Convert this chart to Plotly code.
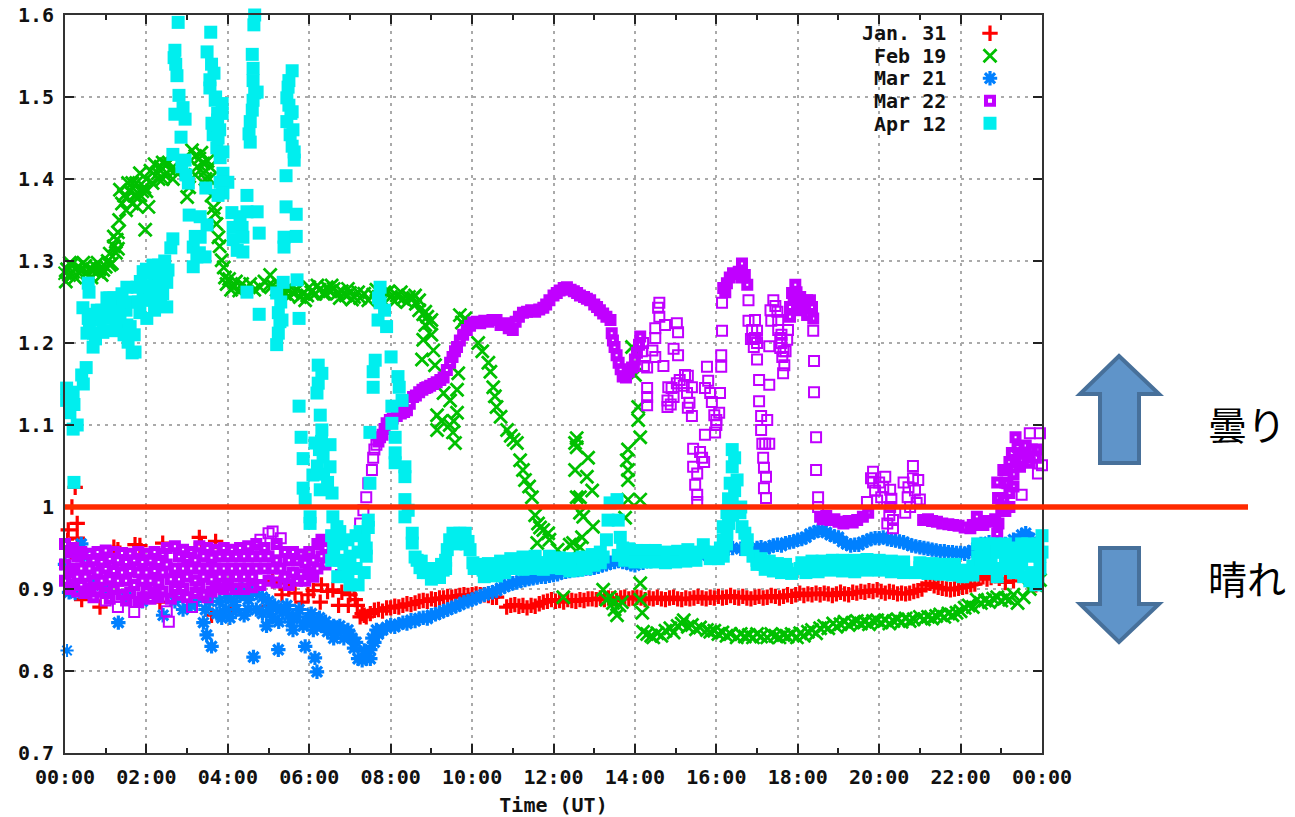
import plotly.graph_objects as go

W, H = 1295, 817
L, R, T, B = 65, 1042, 15, 753

series_names = ["Jan. 31", "Feb 19", "Mar 21", "Mar 22", "Apr 12"]
hour_ticks = [0, 2, 4, 6, 8, 10, 12, 14, 16, 18, 20, 22, 24]
hour_labels = ["00:00", "02:00", "04:00", "06:00", "08:00", "10:00", "12:00", "14:00", "16:00", "18:00", "20:00", "22:00", "00:00"]
minor_hours = [1, 3, 5, 7, 9, 11, 13, 15, 17, 19, 21, 23]
ratio_ticks = [0.7, 0.8, 0.9, 1.0, 1.1, 1.2, 1.3, 1.4, 1.5, 1.6]
ratio_labels = ["0.7", "0.8", "0.9", "1", "1.1", "1.2", "1.3", "1.4", "1.5", "1.6"]

jan31 = [(.05,.96),(.08,.972),(.17,1.0),(.25,1.024),(.3,.98),(.3,.962),(.15,.945),(.41,.887),(.86,.878),(1.2,.951),(1.3,.948),(1.72,.954),(1.84,.953),(2.33,.884),(2.4,.956),(3.3,.963),(3.35,.955),(3.6,.868),(3.7,.958),(4.06,.872),(4.96,.879),(5.33,.893),(5.28,.907),(5.1,.91),(5.5,.9),(5.65,.895),(5.82,.884),(5.97,.893),(6.1,.898),(6.27,.884),(6.3,.905),(6.45,.897),(6.58,.899),(6.72,.88),(6.8,.896),(6.96,.88),(7.0,.893),(7.1,.9),(7.13,.887),(7.18,.88),(7.25,.866),
(7.3,.87),(7.35,.868),(7.4,.866),(7.5,.87),(7.6,.874),(7.7,.875),(7.8,.873),(7.9,.877),(8.0,.877),(8.1,.879),(8.2,.878),(8.3,.88),(8.4,.882),(8.5,.881),(8.6,.883),(8.7,.885),(8.8,.886),(8.9,.885),(9.0,.888),(9.1,.887),(9.2,.889),(9.3,.889),(9.4,.891),(9.5,.89),(9.6,.891),(9.7,.892),(9.8,.893),(9.9,.892),(10.0,.893),(10.1,.894),(10.2,.893),(10.3,.893),(10.4,.892),(10.5,.89),(10.6,.89),(10.85,.878),(10.95,.88),(11.05,.881),(11.15,.879),(11.25,.88),(11.35,.877),(11.45,.88),(11.55,.879),(11.65,.882),(11.75,.884),(11.85,.885),(11.95,.887),(12.05,.885),(12.15,.886),(12.25,.884),(12.35,.887),(12.45,.886),(12.55,.885),(12.65,.887),(12.75,.886),(12.85,.888),(12.95,.888),(13.05,.887),(13.15,.889),(13.25,.887),(13.35,.889),(13.45,.888),(13.55,.886),(13.65,.889),(13.75,.89),(13.85,.888),(13.95,.889),(14.05,.89),(14.15,.889),(14.25,.887),(14.35,.889),(14.45,.888),(14.55,.89),(14.65,.888),(14.75,.887),(14.85,.889),(14.95,.89),(15.05,.888),(15.15,.887),(15.25,.889),(15.35,.888),(15.45,.889),(15.55,.891),(15.65,.889),(15.75,.888),(15.85,.89),(15.95,.889),(16.05,.891),(16.15,.889),(16.25,.89),(16.35,.892),(16.45,.89),(16.55,.889),(16.65,.891),(16.75,.889),(16.85,.888),(16.95,.89),(17.05,.891),(17.15,.889),(17.25,.89),(17.35,.892),(17.45,.891),(17.55,.889),(17.65,.891),(17.75,.893),(17.85,.891),(17.95,.893),(18.05,.895),(18.15,.892),(18.25,.894),(18.35,.893),(18.45,.895),(18.55,.893),(18.65,.895),(18.75,.894),(18.85,.892),(18.95,.894),(19.05,.896),(19.15,.894),(19.25,.893),(19.35,.896),(19.45,.895),(19.55,.897),(19.65,.896),(19.75,.898),(19.85,.897),(19.95,.899),(20.05,.897),(20.15,.895),(20.25,.897),(20.35,.896),(20.45,.894),(20.55,.895),(20.65,.894),(20.75,.895),(20.85,.897),(20.95,.898),(21.05,.9),(21.15,.905),(21.25,.907),(21.35,.904),(21.45,.902),(21.55,.901),(21.65,.9),(21.75,.899),(21.85,.9),(21.95,.901),(22.05,.902),(22.15,.903),(22.25,.905),(22.35,.906),(22.45,.913),(22.55,.915),(22.65,.912),(22.75,.914),(22.85,.916),(22.95,.913),(23.1,.908),(23.3,.91),(23.6,.912),(23.85,.905)]

feb19 = [(0.0,1.285),(.05,1.29),(.1,1.283),(.15,1.295),(.2,1.287),(.3,1.292),(.35,1.285),(.4,1.29),(.5,1.294),(.55,1.286),(.6,1.291),(.7,1.288),(.75,1.293),(.8,1.287),(.85,1.29),(.94,1.289),(1.0,1.293),(1.05,1.3),(1.1,1.309),(1.15,1.297),(1.2,1.318),(1.25,1.31),(1.27,1.326),(1.33,1.35),(1.3,1.335),(1.35,1.387),(1.4,1.37),(1.45,1.38),(1.52,1.378),(1.5,1.362),(1.6,1.385),(1.65,1.37),(1.7,1.38),(1.77,1.366),(1.75,1.38),(1.84,1.407),(1.9,1.385),(1.97,1.338),(1.95,1.39),(2.05,1.366),(2.0,1.4),(2.1,1.41),(2.15,1.395),(2.2,1.418),(2.28,1.407),(2.35,1.415),(2.4,1.42),(2.45,1.405),(2.5,1.418),(2.58,1.411),(2.65,1.4),(2.7,1.41),(3.0,1.378),(3.05,1.39),(3.12,1.435),(3.2,1.428),(3.25,1.415),(3.3,1.425),(3.4,1.419),(3.45,1.41),(3.5,1.422),(3.56,1.415),(3.6,1.38),(3.65,1.365),(3.69,1.358),(3.72,1.345),(3.77,1.329),(3.8,1.318),(3.85,1.301),(3.9,1.292),(3.93,1.28),(3.97,1.272),(4.03,1.278),(4.08,1.265),(4.13,1.268),(4.2,1.275),(4.28,1.264),(4.35,1.272),(4.45,1.267),(4.55,1.272),(4.65,1.265),(4.79,1.268),(4.9,1.275),(5.04,1.283),(5.1,1.27),(5.2,1.265),(5.3,1.262),(5.4,1.26),(5.5,1.257),(5.6,1.261),(5.77,1.256),(5.85,1.26),(5.95,1.258),(6.05,1.262),(6.15,1.26),(6.25,1.265),(6.35,1.26),(6.43,1.268),(6.5,1.263),(6.6,1.266),(6.7,1.261),(6.8,1.263),(6.9,1.258),(7.0,1.261),(7.1,1.256),(7.25,1.255),(7.35,1.26),(7.57,1.259),(7.7,1.256),(7.85,1.262),(8.0,1.256),(8.15,1.258),(8.3,1.254),(8.45,1.256),(8.55,1.255),(8.62,1.248),(8.7,1.24),(8.8,1.235),(8.9,1.232),(8.95,1.225),(8.8,1.204),(9.05,1.191),(8.77,1.18),(9.09,1.173),(9.0,1.21),(9.7,1.234),(9.83,1.23),(9.75,1.225),(9.66,1.163),(9.3,1.139),(9.63,1.143),(9.46,1.13),(9.14,1.112),(9.63,1.115),(9.14,1.094),(9.53,1.091),(9.58,1.078),(9.25,1.105),(9.45,1.1),(9.55,1.105),
(10.15,1.2),(10.25,1.19),(10.4,1.176),(10.45,1.165),(10.52,1.146),(10.56,1.135),(10.6,1.122),(10.7,1.11),(10.86,1.094),(10.95,1.087),(11.02,1.082),(11.1,1.078),(11.18,1.057),(11.25,1.045),(11.3,1.033),(11.4,1.025),(11.47,1.012),(11.55,.99),(11.62,.98),(11.67,.975),(11.75,.972),(11.87,.968),(11.9,.96),(11.6,.956),(12.1,.948),(12.4,.954),(12.53,1.078),(12.53,1.045),(12.57,1.012),(12.57,1.084),(12.57,1.073),(12.85,1.06),(12.82,1.037),(12.95,1.02),(12.65,1.012),(12.65,.993),(12.97,.976),(12.7,.963),(12.73,.988),(12.48,.956),(12.65,.951),(11.6,.92),(12.08,.923),(12.24,.89),(13.22,.899),(13.3,.887),(13.38,.89),(13.46,.883),(13.5,.875),(13.56,.868),(13.62,.88),(13.68,.884),(13.83,1.07),(13.8,1.057),(14.13,1.085),(13.83,1.045),(13.83,1.033),(14.08,1.106),(14.08,1.122),(14.0,1.161),(13.93,1.195),(14.13,1.009),(13.83,1.009),(13.76,.987),(14.13,.907),(14.13,.887),(14.18,.871),
(14.2,.848),(14.3,.845),(14.4,.843),(14.45,.841),(14.55,.846),(14.65,.843),(14.75,.849),(14.87,.852),(14.95,.847),(15.05,.855),(15.15,.858),(15.2,.862),(15.3,.854),(15.4,.856),(15.5,.851),(15.6,.853),(15.77,.85),(15.85,.848),(15.95,.849),(16.05,.845),(16.15,.847),(16.25,.843),(16.35,.845),(16.5,.841),(16.6,.845),(16.7,.842),(16.8,.844),(16.9,.841),(17.0,.845),(17.1,.842),(17.25,.841),(17.35,.845),(17.45,.843),(17.55,.841),(17.65,.844),(17.75,.842),(17.85,.845),(17.98,.841),(18.06,.846),(18.15,.843),(18.25,.848),(18.35,.85),(18.45,.846),(18.55,.852),(18.65,.855),(18.75,.852),(18.87,.858),(18.95,.854),(19.05,.857),(19.15,.86),(19.25,.856),(19.35,.859),(19.45,.861),(19.55,.858),(19.65,.86),(19.75,.857),(19.85,.861),(19.95,.862),(20.05,.859),(20.15,.862),(20.25,.858),(20.35,.861),(20.45,.863),(20.55,.86),(20.65,.864),(20.75,.861),(20.85,.863),(21.0,.866),(21.1,.863),(21.2,.866),(21.3,.864),(21.4,.867),(21.5,.869),(21.6,.866),(21.7,.87),(21.8,.868),(21.9,.871),(22.0,.873),(22.1,.877),(22.2,.88),(22.3,.878),(22.4,.887),(22.5,.883),(22.6,.886),(22.7,.884),(22.8,.888),(22.9,.89),(23.0,.886),(23.1,.889),(23.2,.887),(23.3,.893),(23.4,.883),(23.55,.89),(23.7,.9),(23.85,.905),(23.95,.911),
(5.0,1.27),(5.25,1.272),(5.45,1.265),(5.55,1.268),(5.7,1.265),(5.9,1.252),(6.0,1.268),(6.2,1.27),(6.4,1.26),(6.55,1.27),(6.75,1.255),(6.95,1.266),(7.05,1.253),(7.2,1.262),(7.45,1.252),(7.65,1.265),(7.8,1.252),(7.95,1.263),(8.1,1.251),(8.25,1.262),(8.4,1.25),(8.6,1.258),(8.7,1.252),(8.85,1.238),(9.0,1.228),(8.85,1.222),(.02,1.275),(.12,1.298),(.25,1.28),(.45,1.298),(.65,1.28),(.8,1.298),(.9,1.283),(1.1,1.295),(1.2,1.33),(1.3,1.315),(1.55,1.395),(1.65,1.395),(1.75,1.395),(1.85,1.38),(2.0,1.385),(2.3,1.4),(2.55,1.42),(2.4,1.4),(3.35,1.432),(3.45,1.4),(3.55,1.4),(3.2,1.405)]

mar21 = [(.05,.825),(.1,.896),(.25,.895),(.0,.93),(.4,.955),(.45,.94),(.7,.905),(1.0,.9),(1.31,.859),(1.5,.89),(1.9,.885),(2.41,.868),(2.7,.885),(3.1,.88),(3.4,.859),(3.48,.844),(3.6,.83),(3.73,.87),(3.85,.865),(3.95,.875),(4.05,.865),(4.15,.885),(4.3,.892),(4.4,.868),(4.5,.887),(4.63,.817),(4.6,.896),(4.7,.875),(4.85,.89),(4.95,.855),(5.0,.874),(5.1,.866),(5.24,.826),(5.25,.86),(5.35,.872),(5.5,.868),(5.6,.85),(5.7,.866),(5.9,.83),(5.95,.86),(6.0,.862),(6.1,.85),(6.14,.816),(6.19,.799),(6.3,.855),(6.45,.848),(6.5,.852),(6.6,.84),(6.7,.847),(6.85,.84),(7.0,.844),(7.1,.828),(7.2,.815),(7.3,.813),(7.4,.815),(7.5,.826),(7.6,.835),(7.7,.845),(7.8,.85),(7.9,.853),(8.0,.856),(8.1,.854),(8.2,.857),(8.3,.859),(8.4,.858),(8.5,.862),(8.6,.861),(8.7,.864),(8.8,.865),(8.9,.864),(9.0,.868),(9.1,.869),(9.2,.871),(9.3,.873),(9.4,.875),(9.5,.877),(9.6,.879),(9.7,.881),(9.8,.884),(9.9,.885),(10.0,.887),(10.1,.889),(10.2,.891),(10.3,.893),(10.4,.895),(10.5,.896),(10.6,.898),(10.7,.901),(10.8,.903),(10.9,.905),(11.0,.907),(11.1,.908),(11.2,.91),(11.3,.911),(11.4,.912),(11.5,.913),(11.6,.914),(11.7,.915),(11.8,.915),(11.9,.916),(12.0,.917),(12.1,.918),(12.2,.92),(12.3,.921),(12.4,.922),(12.5,.923),(12.6,.923),(12.7,.924),(12.8,.925),(12.9,.925),(13.0,.926),(13.1,.927),(13.2,.929),(13.3,.93),(13.4,.932),(13.5,.933),(13.6,.934),(13.7,.933),(13.8,.932),(13.9,.93),(14.0,.929),(14.2,.932),(14.4,.934),(14.6,.935),(14.8,.937),(15.0,.938),(15.2,.939),(15.4,.94),(15.6,.941),(15.8,.943),(16.0,.944),(16.2,.947),(16.4,.95),(16.6,.949),(16.8,.95),(16.9,.947),(17.0,.95),(17.1,.951),(17.2,.949),(17.3,.951),(17.4,.953),(17.5,.954),(17.6,.953),(17.7,.956),(17.8,.957),(17.9,.958),(18.0,.96),(18.1,.961),(18.2,.963),(18.3,.967),(18.4,.969),(18.5,.971),(18.6,.972),(18.7,.969),(18.8,.966),(18.9,.964),(19.0,.963),(19.1,.958),(19.2,.955),(19.3,.953),(19.4,.954),(19.5,.954),(19.6,.957),(19.7,.959),(19.8,.961),(19.9,.962),(20.0,.962),(20.1,.963),(20.2,.961),(20.3,.96),(20.4,.959),(20.5,.958),(20.6,.957),(20.7,.955),(20.8,.953),(20.9,.952),(21.0,.951),(21.1,.95),(21.2,.949),(21.3,.948),(21.4,.947),(21.5,.946),(21.6,.946),(21.7,.945),(21.8,.945),(21.9,.944),(22.0,.944),(22.1,.943),(22.2,.945),(22.3,.947),(22.4,.951),(22.5,.955),(22.7,.957),(22.9,.956),(23.1,.955),(23.3,.96),(23.5,.966),(23.6,.968),(23.7,.962),(23.9,.948),
(3.8,.885),(4.0,.89),(4.2,.875),(4.35,.9),(4.5,.875),(4.7,.895),(4.85,.87),(5.0,.885),(5.15,.88),(5.3,.875),(5.45,.88),(5.55,.86),(5.75,.875),(5.85,.855),(6.05,.87),(6.15,.855),(6.25,.865),(6.4,.86),(6.6,.855),(6.75,.855),(6.95,.85),(7.05,.84),(7.15,.835),(7.35,.825),(7.5,.815),(7.55,.84),(7.65,.85),(2.9,.875),(3.2,.885),(3.45,.875),(3.55,.885)]

mar22_sparse = [(2.55,.86),(1.7,.872),(3.12,.878),(6.78,.917),(2.5,.873),(1.0,.886),(1.3,.878),(3.5,.89),(5.0,.968),(5.1,.97),(4.8,.96),(5.3,.962),
(7.25,.98),(7.33,.996),(7.4,1.012),(7.45,1.029),(7.54,1.045),(7.57,1.06),(7.6,1.07),(7.65,1.076),
(14.2,1.2),(14.17,1.19),(14.22,1.172),(14.3,1.17),(14.3,1.145),(14.3,1.134),(14.3,1.124),(14.5,1.183),(14.43,1.191),(14.5,1.218),(14.5,1.206),(14.57,1.243),(14.6,1.232),(14.6,1.249),(14.74,1.222),(15.03,1.224),(15.06,1.213),(14.95,1.193),(15.06,1.185),(14.7,1.172),(14.82,1.146),(14.8,1.13),(14.8,1.122),(14.95,1.134),(15.23,1.161),(15.03,1.151),(15.4,1.146),(15.28,1.139),(15.34,1.127),(15.3,1.121),(15.4,1.111),(14.9,1.145),(14.88,1.125),(15.1,1.155),(15.3,1.16),(15.2,1.148),
(15.77,1.171),(15.8,1.154),(15.72,1.145),(15.85,1.139),(15.89,1.128),(16.09,1.139),(16.07,1.115),(16.0,1.106),(15.97,1.091),(15.72,1.088),(16.12,1.185),(16.12,1.171),(15.95,1.112),(16.0,1.1),(15.43,1.071),(15.65,1.06),(15.6,1.067),(15.7,1.055),(15.43,1.049),(15.53,1.041),(15.48,1.027),(15.53,1.015),(15.53,1.006),
(16.14,1.215),(16.14,1.249),(16.79,1.252),(16.79,1.227),(16.95,1.228),(16.88,1.216),(16.95,1.206),(17.0,1.2),(17.3,1.196),(17.0,1.18),(17.05,1.155),(17.3,1.149),(17.05,1.129),(17.1,1.111),(17.25,1.106),(17.1,1.094),(17.13,1.077),(17.2,1.077),(17.3,1.077),(17.15,1.06),(17.17,1.048),(17.22,1.037),(17.17,1.023),(17.22,1.011),(16.9,1.205),(16.92,1.195),(17.0,1.215),(16.85,1.205),
(17.4,1.252),(17.33,1.24),(17.5,1.238),(17.35,1.227),(17.52,1.228),(17.52,1.216),(17.76,1.216),(17.57,1.206),(17.74,1.204),(17.57,1.194),(17.62,1.183),(17.67,1.173),(17.64,1.163),(17.45,1.245),(17.6,1.21),(17.7,1.19),(17.65,1.19),(17.6,1.2),
(18.38,1.215),(18.4,1.178),(18.4,1.14),(18.45,1.085),(18.45,1.045),(18.5,1.012),(18.5,1.0),
(19.85,1.043),(19.85,1.03),(19.9,1.02),(19.95,1.008),(19.8,1.035),(20.0,1.03),(20.15,1.037),(20.1,1.024),(20.27,1.021),(20.05,1.012),(19.7,1.006),(20.27,1.0),(20.34,.984),(20.34,.974),(20.25,.99),(20.2,.98),(20.3,1.01),(20.6,1.03),(20.83,1.05),(20.83,1.035),(20.7,1.012),(20.96,1.033),(21.0,1.009),(20.76,1.0),(20.64,.993),(20.72,1.024),(20.88,1.02),(20.92,1.005),
(23.5,1.015),(23.7,1.09),(23.95,1.09),(24.0,1.051),(23.9,1.041)]

mar22_dense = [(0,.955),(0,.93),(0,.91),(.1,.945),(.1,.92),(.1,.9),(.2,.95),(.2,.925),(.2,.905),(.3,.94),(.3,.915),(.3,.897),(.4,.945),(.4,.925),(.4,.905),(.5,.935),(.5,.915),(.5,.895),(.6,.943),(.6,.925),(.6,.9),(.7,.935),(.7,.91),(.7,.89),(.8,.945),(.8,.92),(.8,.897),(.9,.933),(.9,.91),(1.0,.947),(1.0,.925),(1.0,.895),(1.1,.937),(1.1,.912),(1.1,.888),(1.2,.945),(1.2,.922),(1.2,.9),(1.3,.935),(1.3,.91),(1.4,.944),(1.4,.92),(1.4,.893),(1.5,.933),(1.5,.91),(1.5,.886),(1.6,.943),(1.6,.922),(1.6,.895),(1.7,.935),(1.7,.905),(1.8,.945),(1.8,.92),(1.8,.884),(1.9,.933),(1.9,.91),(1.9,.89),(2.0,.943),(2.0,.92),(2.0,.897),(2.1,.935),(2.1,.91),(2.1,.888),(2.2,.945),(2.2,.922),(2.2,.895),(2.3,.933),(2.3,.908),(2.3,.89),(2.4,.943),(2.4,.92),(2.4,.897),(2.5,.95),(2.5,.93),(2.6,.912),(2.6,.888),(2.7,.952),(2.7,.925),(2.7,.9),(2.8,.94),(2.8,.912),(2.8,.893),(2.9,.948),(2.9,.925),(2.9,.9),(3.0,.938),(3.0,.915),(3.0,.89),(3.1,.945),(3.1,.925),(3.2,.935),(3.2,.91),(3.2,.895),(3.3,.952),(3.3,.925),(3.3,.902),(3.4,.94),(3.4,.915),(3.4,.893),(3.5,.95),(3.5,.925),(3.6,.938),(3.6,.912),(3.6,.897),(3.7,.948),(3.7,.925),(3.7,.902),(3.8,.94),(3.8,.915),(3.9,.95),(3.9,.925),(3.9,.9),(4.0,.94),(4.0,.915),(4.0,.905),(4.1,.948),(4.1,.925),(4.2,.94),(4.2,.915),(4.2,.9),(4.3,.95),(4.3,.925),(4.4,.94),(4.4,.915),(4.4,.9),(4.5,.952),(4.5,.925),(4.6,.94),(4.6,.915),(4.6,.902),(4.7,.955),(4.7,.925),(4.8,.94),(4.8,.905),(4.9,.95),(4.9,.925),(5.0,.94),(5.0,.91),(5.1,.925),(5.2,.955),(5.2,.935),(5.2,.908),(5.3,.925),(5.4,.945),(5.4,.915),(5.5,.935),(5.5,.905),(5.6,.945),(5.6,.92),(5.7,.935),(5.7,.91),(5.8,.942),(5.8,.918),(5.9,.932),(5.9,.91),(6.0,.945),(6.0,.92),(6.1,.935),(6.1,.915),(6.2,.955),(6.2,.925),(6.3,.96),(6.3,.94),(6.4,.95),(6.4,.93),
(7.7,1.08),(7.74,1.085),(7.8,1.088),(7.85,1.095),(7.9,1.102),(7.98,1.106),(8.05,1.108),(8.15,1.111),(8.25,1.114),(8.33,1.116),(8.4,1.118),(8.47,1.126),(8.55,1.134),(8.62,1.136),(8.7,1.14),(8.78,1.143),(8.85,1.145),(8.9,1.146),(8.97,1.148),(9.05,1.15),(9.13,1.152),(9.22,1.155),(9.3,1.158),(9.38,1.167),(9.46,1.176),(9.52,1.183),(9.58,1.19),(9.63,1.195),(9.7,1.203),(9.78,1.21),(9.87,1.216),(9.95,1.221),(10.03,1.225),(10.12,1.226),(10.2,1.224),(10.3,1.227),(10.4,1.226),(10.5,1.228),(10.6,1.228),(10.7,1.222),(10.8,1.224),(10.9,1.218),(11.0,1.216),(11.07,1.226),(11.15,1.232),(11.25,1.237),(11.35,1.238),(11.45,1.24),(11.55,1.238),(11.65,1.241),(11.75,1.243),(11.82,1.247),(11.9,1.252),(12.0,1.258),(12.08,1.261),(12.15,1.264),(12.25,1.267),(12.33,1.268),(12.42,1.265),(12.5,1.263),(12.58,1.261),(12.65,1.258),(12.75,1.256),(12.82,1.254),(12.9,1.252),(13.0,1.247),(13.07,1.244),(13.14,1.24),(13.22,1.236),(13.3,1.232),(13.4,1.228),(13.43,1.212),(13.46,1.203),(13.5,1.195),(13.55,1.185),(13.6,1.176),(13.65,1.168),(13.7,1.159),(13.78,1.158),(13.85,1.165),(13.93,1.17),(14.0,1.18),(14.05,1.188),(14.1,1.198),(14.13,1.208),
(16.17,1.267),(16.22,1.262),(16.26,1.273),(16.33,1.28),(16.41,1.285),(16.48,1.284),(16.55,1.287),(16.63,1.297),(16.63,1.28),(16.7,1.283),(16.76,1.271),
(17.94,1.271),(17.86,1.261),(17.81,1.244),(17.81,1.232),(17.9,1.255),(17.97,1.262),(18.02,1.25),(18.06,1.256),(18.1,1.24),(18.18,1.244),(18.23,1.252),(18.3,1.252),(18.23,1.234),(18.35,1.244),(18.38,1.23),
(18.55,.988),(18.62,.985),(18.7,.989),(18.8,.984),(18.9,.985),(19.0,.982),(19.12,.98),(19.25,.983),(19.35,.981),(19.46,.984),(19.6,.988),(19.73,.993),
(21.08,.984),(21.2,.985),(21.3,.983),(21.42,.982),(21.55,.98),(21.7,.979),(21.82,.978),(21.95,.977),(22.1,.975),(22.24,.974),(22.3,.978),(22.4,.988),(22.5,.98),(22.56,.978),(22.65,.983),(22.73,.982),(22.85,.985),(22.93,.98),(22.9,.967),(22.92,1.011),(22.9,1.03),(23.05,1.045),(23.2,1.055),(23.15,1.029),(23.05,1.009),(23.2,1.017),(23.2,1.0),(23.1,.995),(23.0,.998),(23.35,1.085),(23.4,1.073),(23.26,1.066),(23.55,1.066),(23.88,1.07),(23.7,1.054),(23.46,1.049),(23.3,1.04),(23.15,1.045),(23.35,1.055),(23.45,1.065),(23.6,1.075),(23.75,1.07),(23.85,1.06),(23.65,1.06),(23.1,1.03),(23.3,1.025)]

apr12 = [(2.78,1.591),(2.7,1.557),(2.68,1.548),(2.75,1.526),(2.8,1.502),(2.9,1.487),(2.7,1.479),(2.95,1.473),(2.85,1.451),(2.65,1.43),(2.95,1.423),(2.87,1.415),(2.97,1.405),(3.03,1.395),(3.58,1.579),(3.49,1.555),(3.66,1.529),(3.56,1.521),(3.56,1.511),(3.69,1.496),(3.86,1.492),(3.86,1.48),(3.61,1.468),(3.75,1.472),(3.64,1.454),(3.76,1.45),(3.73,1.438),(3.88,1.433),(3.81,1.426),(3.88,1.407),(4.0,1.396),(3.81,1.396),(3.46,1.389),(3.88,1.383),(3.76,1.38),(4.64,1.588),(4.6,1.552),(4.62,1.52),(4.72,1.506),(4.6,1.484),(4.62,1.496),(4.55,1.47),(4.52,1.455),(5.58,1.532),(5.48,1.512),(5.45,1.499),(5.58,1.482),(5.45,1.47),(5.53,1.454),(5.63,1.433),(5.63,1.423),(5.43,1.404),(5.43,1.366),(5.68,1.357),(5.38,1.329),(5.68,1.33),(5.38,1.317),(4.47,1.38),(4.72,1.36),(4.47,1.36),(4.77,1.334),(4.1,1.359),(4.3,1.354),(4.13,1.341),(4.35,1.341),(4.13,1.326),(4.37,1.329),(4.23,1.313),(4.37,1.311),(3.05,1.356),(3.32,1.354),(3.49,1.344),(3.32,1.329),(3.15,1.317),(3.24,1.305),(3.15,1.293),(3.44,1.305),(3.2,1.33),(3.3,1.31),(2.65,1.327),(2.6,1.316),
(2.16,1.295),(1.92,1.287),(2.53,1.289),(2.5,1.274),(2.21,1.277),(2.1,1.285),(2.35,1.28),(1.92,1.265),(2.26,1.261),(1.52,1.268),(1.77,1.268),(1.03,1.255),(1.2,1.255),(1.35,1.255),(2.09,1.252),(2.5,1.244),(2.35,1.255),(.79,1.24),(1.1,1.24),(1.84,1.237),(2.2,1.24),(1.52,1.222),(2.01,1.23),(.44,1.243),(.57,1.273),(.59,1.262),(.57,1.23),(.86,1.228),(1.0,1.23),(1.3,1.24),(1.5,1.24),(1.65,1.25),(.54,1.212),(.93,1.213),(.7,1.212),(.69,1.195),(1.55,1.201),(1.72,1.189),(1.65,1.188),(1.7,1.21),(.52,1.17),(.41,1.161),(.45,1.15),(.04,1.145),(.04,1.13),(.2,1.14),(.12,1.115),(.22,1.125),(.3,1.1),(.2,1.095),(.22,1.03),
(4.77,1.235),(5.75,1.23),(5.7,1.277),(5.36,1.274),(5.2,1.261),(5.24,1.237),(5.28,1.226),(5.24,1.212),(5.2,1.198),(4.47,1.262),(6.22,1.173),(6.31,1.163),(6.22,1.151),(6.19,1.139),(5.33,1.228),(5.3,1.25),
(5.75,1.123),(6.27,1.112),(6.31,1.094),(5.8,1.085),(6.14,1.078),(6.51,1.076),(5.85,1.059),(6.34,1.061),(6.51,1.049),(6.09,1.039),(5.85,1.023),(6.27,1.021),(6.56,1.017),(5.9,1.009),(6.02,.988),(6.58,.988),(6.02,.98),(6.68,.976),(6.45,1.03),(6.2,1.05),(6.35,1.04),(6.25,1.07),(6.3,1.08),
(6.55,.965),(6.6,.95),(6.55,.935),(6.75,.97),(6.8,.955),(6.75,.935),(6.7,.915),(6.95,.96),(7.0,.94),(6.95,.92),(7.0,.905),(7.15,.965),(7.2,.945),(7.15,.925),(7.2,.905),(7.35,.96),(7.4,.94),(7.35,.92),(7.4,.95),(6.85,.93),(7.25,.97),(7.45,.975),
(7.74,1.268),(7.74,1.249),(7.69,1.228),(7.9,1.22),(7.7,1.255),(7.85,1.24),(7.62,1.179),(7.57,1.165),(7.57,1.146),(8.01,1.183),(8.18,1.159),(8.21,1.146),(8.28,1.13),(8.03,1.123),(7.49,1.091),(8.03,1.102),(8.11,1.085),(8.11,1.066),(8.35,1.049),(8.35,1.037),(8.11,1.054),(7.49,1.029),(8.35,1.009),(8.43,.996),(8.35,.988),(7.45,.984),
(8.53,.968),(8.53,.956),(8.6,.939),(8.72,.926),(8.9,.92),(9.02,.917),(9.15,.921),(9.29,.923),(9.39,.948),(9.35,.935),(9.45,.96),(9.53,.968),(9.7,.968),(9.83,.968),(9.95,.948),(9.9,.958),(10.02,.932),(10.27,.923),(10.5,.924),(10.69,.926),(10.9,.929),(11.1,.932),(11.35,.931),(11.6,.932),(11.85,.932),(12.08,.932),(12.3,.93),(12.48,.929),(12.7,.931),(12.9,.933),(13.1,.936),(13.22,.939),(13.3,.96),(13.34,.984),(13.39,1.005),(13.56,1.009),(13.59,.984),(13.64,.963),(13.59,.941),(13.88,.941),(14.1,.939),(14.3,.939),(14.6,.94),(14.94,.939),(15.2,.94),(15.43,.941),(15.55,.945),(15.68,.954),(15.85,.945),(16.0,.944),(16.17,.94),(16.26,.968),(16.29,.996),(16.39,1.07),(16.39,1.049),(16.34,1.029),(16.51,1.033),(16.39,1.009),(16.26,.993),(16.58,.993),(16.17,.976),(16.63,.976),(16.17,.96),(16.76,.96),(16.7,.968),(16.75,.948),(17.0,.935),(17.15,.93),(17.32,.927),(17.55,.925),(17.74,.924),(18.06,.925),(18.3,.928),(18.6,.927),(18.85,.929),(19.1,.929),(19.4,.928),(19.7,.93),(20.0,.929),(20.3,.928),(20.6,.927),(21.0,.926),(21.25,.926),(21.5,.926),(21.75,.924),(22.1,.923),(22.3,.928),(22.42,.939),(22.42,.955),(22.55,.925),(22.6,.95),(22.75,.935),(22.85,.955),(23.0,.925),(23.05,.945),(23.2,.93),(23.25,.95),(23.4,.925),(23.45,.945),(23.55,.915),(23.65,.94),(23.65,.955),(23.75,.92),(23.85,.905),(23.85,.945),(23.95,.925),(24.0,.965),(24.0,.945),
(8.65,.935),(8.8,.92),(9.0,.912),(9.2,.914),(9.35,.925),(9.6,.955),(9.85,.955),(10.05,.925),(10.3,.915),(10.6,.916),(10.8,.92),(11.0,.925),(11.25,.924),(11.5,.925),(11.75,.924),(12.0,.926),(12.2,.925),(12.4,.922),(12.6,.923),(12.8,.925),(13.0,.929),(13.15,.932),(8.75,.934),(9.05,.925),(9.25,.93),(9.6,.965),(10.1,.93),(10.4,.931),(10.7,.934),(10.95,.937),(11.25,.939),(11.55,.94),(11.9,.94),(12.15,.938),(12.4,.937),(12.7,.939),(12.95,.942),(13.15,.945),
(13.7,.95),(13.85,.949),(14.05,.947),(14.25,.947),(14.5,.947),(14.8,.945),(15.05,.946),(15.3,.948),(13.75,.935),(14.0,.933),(14.25,.933),(14.5,.933),(14.75,.932),(15.0,.933),(15.25,.934),(15.5,.935),(15.7,.945),(15.85,.937),(16.05,.937),(16.1,.95),(16.3,1.01),(16.4,.99),(16.45,1.06),(16.45,1.02),(16.3,.98),(16.6,1.0),(16.25,.955),
(16.9,.94),(17.1,.937),(17.3,.934),(17.5,.931),(17.7,.93),(17.0,.93),(17.2,.924),(17.4,.922),(17.6,.92),(17.85,.919),(18.1,.932),(18.35,.934),(18.6,.934),(18.85,.935),(19.1,.935),(19.4,.935),(19.7,.936),(20.0,.935),(20.3,.934),(20.6,.933),(21.0,.932),(21.3,.931),(21.6,.93),(21.85,.93),(18.2,.92),(18.5,.921),(18.8,.923),(19.1,.922),(19.4,.921),(19.7,.923),(20.0,.923),(20.3,.921),(20.6,.92),(20.9,.92),(21.2,.919),(21.5,.918),(21.8,.917),(22.05,.915),(22.3,.917),
(22.5,.945),(22.5,.935),(22.7,.955),(22.7,.925),(22.9,.945),(22.9,.915),(23.1,.955),(23.1,.935),(23.3,.94),(23.3,.92),(23.5,.955),(23.5,.93),(23.7,.945),(23.7,.91),(23.9,.955),(23.9,.915),(23.95,.94),
(.7,1.235),(.9,1.24),(1.1,1.255),(1.25,1.225),(1.4,1.26),(1.6,1.22),(1.8,1.25),(2.0,1.27),(2.1,1.255),(2.3,1.295),(2.4,1.26),(2.3,1.27),(1.15,1.215),(1.85,1.275),(2.0,1.29),(.6,1.22),(.75,1.205),(1.35,1.23),(1.45,1.21),(2.45,1.3),
(2.72,1.54),(3.6,1.54),(3.7,1.5),(3.8,1.46),(3.75,1.48),(4.66,1.6),(4.62,1.535),(4.66,1.505),(4.55,1.445),(5.5,1.52),(5.55,1.48),(5.6,1.46),(5.58,1.44),(5.5,1.49)]

mar22 = mar22_sparse + mar22_dense
series_data = [jan31, feb19, mar21, mar22, apr12]
series_colors = ["#ff0000", "#00c000", "#0080ff", "#c000ff", "#00eeee"]
series_symbols = ["cross-thin", "x-thin", "asterisk", "square-open", "square"]


def px(x):
    return (x - L) / (R - L)


def py(y):
    return (B - y) / (B - T)


def poly(points):
    return "M " + " L ".join(f"{px(a):.5f},{py(b):.5f}" for a, b in points) + " Z"


def style_arrays(i, n):
    if i == 3:
        k = len(mar22_sparse)
        return [10] * k + [7] * (n - k), [2] * k + [5] * (n - k)
    key_size = [10, 13, 11, 10, 13][i]
    dense_size = [11, 13, 12, 10, 13][i]
    key_w = [2, 2, 2, 2, 0][i]
    dense_w = [3.2, 2.8, 3.2, 2, 0][i]
    return [key_size] + [dense_size] * (n - 1), [key_w] + [dense_w] * (n - 1)


fig = go.Figure()
for i, (name, data, col, sym) in enumerate(zip(series_names, series_data, series_colors, series_symbols)):
    sizes, widths = style_arrays(i, len(data))
    fig.add_trace(go.Scatter(
        x=[p[0] for p in data], y=[p[1] for p in data], mode="markers", name=name,
        cliponaxis=False,
        marker=dict(symbol=sym, size=sizes, color=col, opacity=1, line=dict(color=col, width=widths)),
    ))

FONT = "DejaVu Sans Mono"
axis_common = dict(showline=True, linecolor="#333333", linewidth=2, mirror="allticks", ticks="inside",
                   ticklen=9, tickwidth=2, tickcolor="#222222", zeroline=False, showgrid=True, automargin=False,
                   gridcolor="#aaaaaa", gridwidth=1.5, griddash="3px,5px", ticklabelstandoff=5,
                   tickfont=dict(family=FONT, size=20, color="#111111", weight="bold"))
fig.update_xaxes(range=[0, 24], tickmode="array", tickvals=hour_ticks, ticktext=hour_labels,
                 minor=dict(tickmode="array", tickvals=minor_hours, ticklen=5, tickwidth=2, tickcolor="#222222", ticks="inside"),
                 title=dict(text="Time (UT)", font=dict(family=FONT, size=20, color="#111111", weight="bold")),
                 **axis_common)
fig.update_yaxes(range=[0.7, 1.6], tickmode="array", tickvals=ratio_ticks, ticktext=ratio_labels, **axis_common)

arrow_fill = "#5f94c9"
arrow_line = "#47709a"
up_arrow = [(1119, 356), (1159, 394), (1139, 394), (1139, 463), (1100, 463), (1100, 394), (1080, 394)]
down_arrow = [(1100, 548), (1139, 548), (1139, 604), (1159, 604), (1119, 642), (1080, 604), (1100, 604)]
shapes = [
    dict(type="path", xref="paper", yref="paper", path=poly(up_arrow), fillcolor=arrow_fill, line=dict(color=arrow_line, width=4)),
    dict(type="path", xref="paper", yref="paper", path=poly(down_arrow), fillcolor=arrow_fill, line=dict(color=arrow_line, width=4)),
    dict(type="line", xref="paper", yref="y", x0=0, x1=px(1248), y0=1.0, y1=1.0, line=dict(color="#ff2a00", width=5.5)),
]

legend_rows = [33, 56, 78, 101, 124]
annotations = [dict(xref="paper", yref="paper", x=px(948), y=py(r), xanchor="right", yanchor="middle", text=n, showarrow=False,
                    font=dict(family=FONT, size=20, color="#111111", weight="bold"))
               for n, r in zip(series_names, legend_rows)]
annotations += [
    dict(xref="paper", yref="paper", x=px(1206), y=py(423), xanchor="left", yanchor="middle", text="曇り", showarrow=False,
         font=dict(family="Noto Sans CJK JP", size=39, color="#000000")),
    dict(xref="paper", yref="paper", x=px(1206), y=py(577), xanchor="left", yanchor="middle", text="晴れ", showarrow=False,
         font=dict(family="Noto Sans CJK JP", size=39, color="#000000")),
]

fig.update_layout(
    width=W, height=H, margin=dict(l=L, r=W - R, t=T, b=H - B, pad=0, autoexpand=False), paper_bgcolor="#ffffff", plot_bgcolor="#ffffff",
    shapes=shapes, annotations=annotations,
    legend=dict(x=px(970), y=py(17), xanchor="left", yanchor="top", bgcolor="rgba(0,0,0,0)", borderwidth=0, itemsizing="trace",
                font=dict(size=15, color="rgba(0,0,0,0)", family=FONT), tracegroupgap=0, itemclick=False, itemdoubleclick=False),
    showlegend=True,
)

fig.write_html("out.html", config={"displayModeBar": False}, post_script="document.body.style.margin='0';")
